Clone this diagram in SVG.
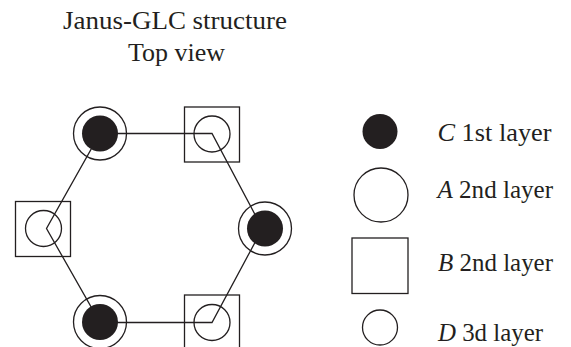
<svg xmlns="http://www.w3.org/2000/svg" width="571" height="347" viewBox="0 0 571 347">
<style>
text{font-family:'Liberation Serif','Times New Roman',serif;font-size:26px;fill:#231f20}
.i{font-style:italic}
.o{fill:none;stroke:#231f20;stroke-width:1.3}
.w{fill:#fff;stroke:#231f20;stroke-width:1.3}
.f{fill:#231f20;stroke:none}
.l{fill:none;stroke:#231f20;stroke-width:1.3}
</style>
<rect width="571" height="347" fill="#fff"/>
<text x="63" y="29" textLength="224" lengthAdjust="spacingAndGlyphs">Janus-GLC  structure</text>
<text x="128" y="61" textLength="97" lengthAdjust="spacingAndGlyphs">Top view</text>
<g id="edges"><path class="l" d="M100,133.5 L212,133.5 L262.5,228.5 L212,322.5 L100,322.5 L46.5,228.5 Z"/></g>
<g id="n1"><circle class="o" cx="100" cy="133.5" r="26.5"/><circle class="f" cx="100" cy="133.5" r="18"/></g>
<g id="n2"><rect class="o" x="184.5" y="107" width="55" height="55"/><circle class="o" cx="212" cy="134" r="18"/></g>
<g id="n3"><circle class="o" cx="265" cy="228.5" r="26.5"/><circle class="f" cx="265" cy="228.5" r="18"/></g>
<g id="n4"><rect class="o" x="184.5" y="295" width="55" height="55"/><circle class="o" cx="212" cy="322.5" r="18"/></g>
<g id="n5"><circle class="o" cx="100" cy="322" r="26.5"/><circle class="f" cx="100" cy="322" r="18"/></g>
<g id="n6"><rect class="o" x="15.5" y="201.5" width="55" height="55"/><circle class="o" cx="43.5" cy="228.5" r="18"/></g>
<g id="legend">
<circle class="f" cx="380" cy="131.5" r="17.5"/>
<text x="437.5" y="140.5" textLength="114" lengthAdjust="spacingAndGlyphs"><tspan class="i">C</tspan> 1st layer</text>
<circle class="w" cx="381" cy="195" r="27"/>
<text x="437.5" y="198" textLength="115.5" lengthAdjust="spacingAndGlyphs"><tspan class="i">A</tspan> 2nd layer</text>
<rect class="w" x="352" y="238" width="56" height="55.5"/>
<text x="438" y="271" textLength="115" lengthAdjust="spacingAndGlyphs"><tspan class="i">B</tspan> 2nd layer</text>
<circle class="w" cx="380" cy="327.5" r="17.5"/>
<text x="438" y="341" textLength="105" lengthAdjust="spacingAndGlyphs"><tspan class="i">D</tspan> 3d layer</text>
</g>
</svg>
